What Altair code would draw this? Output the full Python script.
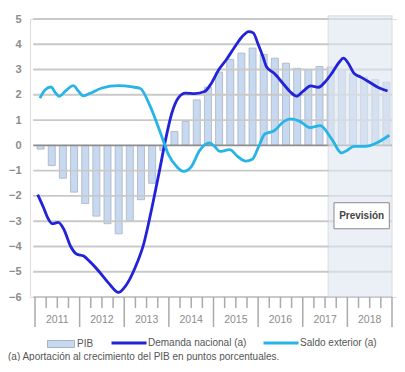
import altair as alt
import pandas as pd

# ---------------- data ----------------
years = [2011, 2012, 2013, 2014, 2015, 2016, 2017, 2018]
year_labels = ["2011", "2012", "2013", "2014", "2015", "2016", "2017", "2018"]
quarter_index = [0, 1, 2, 3]

# PIB, quarterly (2011T1 .. 2018T4)
pib = [-0.15, -0.8, -1.3, -1.85,
       -2.3, -2.8, -3.1, -3.5,
       -3.0, -2.15, -1.5, -0.2,
       0.55, 0.95, 1.8, 2.3,
       2.9, 3.4, 3.65, 3.85,
       3.6, 3.45, 3.25, 3.05,
       3.0, 3.12, 3.1, 3.0,
       2.85, 2.7, 2.6, 2.5]

# Demanda nacional (a)
dn_t = [2011.06, 2011.20, 2011.28, 2011.39, 2011.52, 2011.64, 2011.80, 2011.93,
        2012.09, 2012.23, 2012.44, 2012.65, 2012.87, 2013.00, 2013.15, 2013.30,
        2013.42, 2013.64, 2013.79, 2013.90, 2014.07, 2014.22, 2014.37, 2014.58,
        2014.80, 2014.95, 2015.12, 2015.29, 2015.46, 2015.64, 2015.79, 2015.89,
        2016.00, 2016.11, 2016.19, 2016.36, 2016.58, 2016.73, 2016.86, 2017.01,
        2017.18, 2017.35, 2017.52, 2017.67, 2017.82, 2017.91, 2018.02, 2018.15,
        2018.30, 2018.45, 2018.68, 2018.90]
dn_v = [-1.95, -2.5, -2.85, -3.1, -3.05, -3.3, -4.0, -4.3,
        -4.38, -4.6, -5.0, -5.45, -5.82, -5.63, -5.2, -4.6,
        -4.0, -2.3, -1.0, 0.0, 1.3, 1.9, 2.07, 2.05,
        2.13, 2.45, 3.0, 3.4, 3.85, 4.3, 4.5, 4.45,
        4.0, 3.5, 3.1, 2.85, 2.4, 2.1, 1.95, 2.15,
        2.35, 2.3, 2.55, 2.9, 3.3, 3.45, 3.25, 2.85,
        2.7, 2.55, 2.3, 2.15]

# Saldo exterior (a)
se_t = [2011.11, 2011.23, 2011.36, 2011.45, 2011.54, 2011.68, 2011.86, 2011.97,
        2012.08, 2012.22, 2012.50, 2012.87, 2013.18, 2013.36, 2013.58, 2013.79,
        2014.00, 2014.18, 2014.33, 2014.50, 2014.69, 2014.91, 2015.03, 2015.14,
        2015.36, 2015.55, 2015.72, 2015.87, 2016.00, 2016.15, 2016.36, 2016.58,
        2016.73, 2016.94, 2017.16, 2017.39, 2017.65, 2017.87, 2017.99, 2018.15,
        2018.40, 2018.66, 2018.94]
se_v = [1.87, 2.2, 2.31, 2.1, 1.94, 2.15, 2.36, 2.15,
        1.96, 2.05, 2.27, 2.36, 2.31, 2.25, 1.55, 0.6,
        -0.4, -0.85, -1.03, -0.85, -0.2, 0.1, -0.05, -0.24,
        -0.17, -0.45, -0.62, -0.55, -0.1, 0.45, 0.58, 0.95,
        1.05, 0.95, 0.7, 0.78, 0.25, -0.3, -0.2, -0.04,
        -0.04, 0.1, 0.4]

axis_values = [-6, -5, -4, -3, -2, -1, 0, 1, 2, 3, 4, 5]
grid_values = [-6, -5, -4, -3, -2, -1, 1, 2, 3, 4, 5]
forecast_start = 2017.57
forecast_end = 2019.0
forecast_label = "Previsión"
footnote = "(a) Aportación al crecimiento del PIB en puntos porcentuales."
S_PIB = "PIB"
S_DN = "Demanda nacional (a)"
S_SE = "Saldo exterior (a)"

FONT = "Liberation Sans"
W, H = 367, 278
HALF = 0.038  # half thickness of a grid band, in axis units

# ---------------- tables ----------------
bars_df = pd.DataFrame({
    "t": [y + (q + 0.5) / 4 for y in years for q in quarter_index],
    "v": pib,
    "s": S_PIB,
})
lines_df = pd.concat([
    pd.DataFrame({"t": dn_t, "v": dn_v, "s": S_DN}),
    pd.DataFrame({"t": se_t, "v": se_v, "s": S_SE}),
])
grid_df = pd.DataFrame({"t": [2010.96] * len(grid_values),
                        "t2": [2019.0] * len(grid_values),
                        "v": [g - HALF for g in grid_values],
                        "v2": [g + HALF for g in grid_values]})
zero_df = pd.DataFrame({"t": [2010.96], "t2": [2019.0], "v": [-HALF], "v2": [HALF]})
minor_df = pd.DataFrame({"t": [y + q / 4 for y in years for q in [1, 2, 3]]})
major_df = pd.DataFrame({"t": years + [2019]})
yl_df = pd.DataFrame({"t": [y + 0.5 for y in years], "label": year_labels})
shade_df = pd.DataFrame({"t": [forecast_start], "t2": [forecast_end], "v": [-6], "v2": [5.12]})
box_df = pd.DataFrame({"t": [2017.70], "t2": [2018.94], "v": [-2.27], "v2": [-3.30],
                       "tc": [2018.32], "vc": [-2.78], "label": [forecast_label]})
note_df = pd.DataFrame({"label": [footnote]})

xs = alt.Scale(domain=[2011, 2019], nice=False, zero=False)
ys = alt.Scale(domain=[-6, 5], nice=False, zero=False)

y_axis = alt.Axis(
    values=axis_values,
    title=None,
    domain=False,
    ticks=False,
    grid=False,
    labelFont=FONT,
    labelFontSize=11,
    labelFontWeight="bold",
    labelColor="#8c8c8c",
    labelPadding=9,
    labelOverlap=False,
)


def X(field="t:Q"):
    return alt.X(field, scale=xs, axis=None)


def Y(field="v:Q"):
    return alt.Y(field, scale=ys, axis=y_axis)


bars = alt.Chart(bars_df).mark_bar(size=7, stroke="#a9b3c0", strokeWidth=0.8).encode(
    x=X(), y=Y(),
    fill=alt.Fill("s:N", scale=alt.Scale(domain=[S_PIB], range=["#c7d9f0"]),
                  legend=alt.Legend(title=None, orient="none", legendX=17, legendY=311,
                                    symbolType="M-1,-0.26L1,-0.26L1,0.26L-1,0.26Z",
                                    symbolSize=729, symbolStrokeColor="#a9b3c0",
                                    symbolStrokeWidth=1, labelFont=FONT, labelFontSize=10,
                                    labelColor="#555555", labelOffset=2)),
)

grid = alt.Chart(grid_df).mark_rect(fill="#c9c9c9").encode(
    x=X(), x2="t2:Q", y=Y(), y2="v2:Q")
zero = alt.Chart(zero_df).mark_rect(fill="#8e8e8e").encode(
    x=X(), x2="t2:Q", y=Y(), y2="v2:Q")

shade = alt.Chart(shade_df).mark_rect(fill="#dfe7f3", opacity=0.6, stroke="#c5cedb",
                                      strokeWidth=1.2).encode(
    x=X(), x2="t2:Q", y=Y(), y2="v2:Q")

minor_ticks = alt.Chart(minor_df).mark_rule(stroke="#aaaaaa", strokeWidth=1.5).encode(
    x=X(), y=alt.value(H), y2=alt.value(H + 11))
major_ticks = alt.Chart(major_df).mark_rule(stroke="#aaaaaa", strokeWidth=1.5).encode(
    x=X(), y=alt.value(H), y2=alt.value(H + 30))
year_text = alt.Chart(yl_df).mark_text(font=FONT, fontSize=10.5, fill="#8c8c8c",
                                       baseline="middle").encode(
    x=X(), y=alt.value(H + 23), text="label:N")

lines = alt.Chart(lines_df).mark_line(interpolate="monotone", strokeWidth=2.8).encode(
    x=X(), y=Y(),
    stroke=alt.Stroke("s:N", scale=alt.Scale(domain=[S_DN, S_SE], range=["#2222d8", "#27b4e6"]),
                      legend=alt.Legend(title=None, orient="none", legendX=80, legendY=305,
                                        direction="horizontal", columns=2, columnPadding=10,
                                        symbolType="stroke", symbolSize=1225,
                                        symbolStrokeWidth=3, labelFont=FONT,
                                        labelFontSize=10, labelColor="#555555",
                                        labelOffset=0)),
)

box = alt.Chart(box_df).mark_rect(fill="white", stroke="#8a8a8a", strokeWidth=1).encode(
    x=X(), x2="t2:Q", y=Y(), y2="v2:Q")
box_text = alt.Chart(box_df).mark_text(font=FONT, fontSize=10, fontWeight="bold",
                                       fill="#444444").encode(
    x=X("tc:Q"), y=Y("vc:Q"), text="label:N")

note = alt.Chart(note_df).mark_text(font=FONT, fontSize=10, fill="#555555",
                                    align="left", baseline="alphabetic").encode(
    x=alt.value(-22), y=alt.value(H + 63), text="label:N")

chart = alt.layer(
    bars, grid, zero, shade, minor_ticks, major_ticks,
    year_text, lines, box, box_text, note
).properties(
    width=W, height=H,
    autosize=alt.AutoSizeParams(type="none"),
    padding={"left": 22, "top": 11, "right": 0, "bottom": 64},
)

chart.save("out.html", embed_options={"renderer": "svg", "actions": False})
